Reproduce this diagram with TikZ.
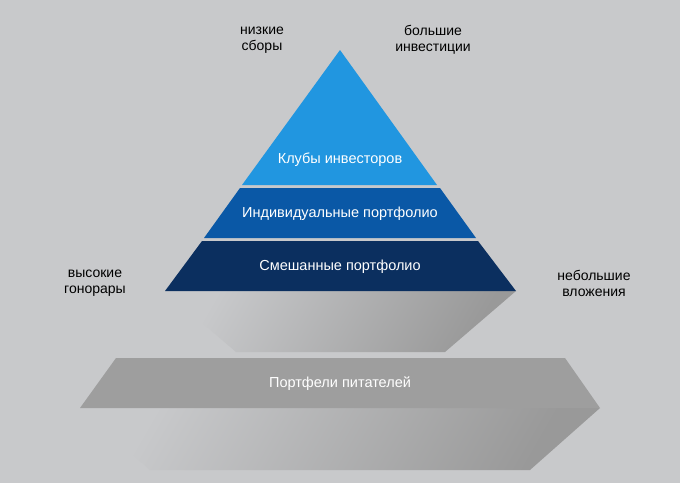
\documentclass[tikz,border=0pt]{standalone}
\usepackage{fontspec}
\setmainfont{Liberation Sans}
\usetikzlibrary{positioning}
\definecolor{bg}{HTML}{C8C9CB}
\definecolor{lblue}{HTML}{2196E0}
\definecolor{mblue}{HTML}{0A58A6}
\definecolor{dblue}{HTML}{0B2F5F}
\definecolor{feed}{HTML}{9E9E9E}
\tikzset{side/.style={align=center, font=\fontsize{14}{16}\selectfont},
  layer/.style={text=white, font=\fontsize{14.5}{16}\selectfont}}
\begin{document}
\begin{tikzpicture}[x=1pt,y=-1pt]

    % background
    \fill [bg] (0,0) rectangle (680,483);
    \useasboundingbox (0,0) rectangle (680,483);

    % shadows
    \shade [left color=bg, right color=gray!80, shading angle=60] (165,291) -- (516,291) -- (445,352) -- (236,352) -- cycle;
    \shade [left color=bg, right color=gray!80, shading angle=60] (80,408) -- (600,408) -- (530,470) -- (150,470) -- cycle;

    % pyramid layers
    \fill [lblue] (340,50) -- (437,185) -- (242,185) -- cycle;
    \fill [mblue] (240,188) -- (440,188) -- (476,238) -- (204,238) -- cycle;
    \fill [dblue] (202,241) -- (478,241) -- (516,291) -- (165,291) -- cycle;
    \fill [feed] (116,358) -- (565,358) -- (600,408) -- (80,408) -- cycle;

    % layer texts
    \node [layer] (clubs) at (340,160) {Клубы инвесторов};
    \node [layer] (indiv) at (340,214) {Индивидуальные портфолио};
    \node [layer] (mixed) at (340,267) {Смешанные портфолио};
    \node [layer] (feeder) at (340,384) {Портфели питателей};

    % side labels
    \node [side] (lowfees) at (262,40) {низкие\\сборы};
    \node [side] (biginv) at (433,40) {большие\\инвестиции};
    \node [side] (highfees) at (95,283) {высокие\\гонорары};
    \node [side] (smallinv) at (594,283) {небольшие\\вложения};
\end{tikzpicture}
\end{document}
